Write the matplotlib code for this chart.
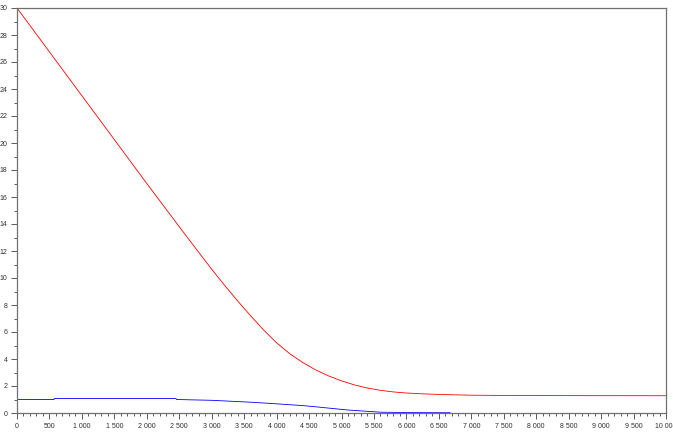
import matplotlib
matplotlib.use('Agg')
import matplotlib.pyplot as plt
from matplotlib.ticker import MultipleLocator, FuncFormatter

# red curve
red_x = [0, 500, 1000, 1500, 2000, 2500, 2800, 3000, 3200, 3400, 3600, 3800,
         4000, 4200, 4400, 4600, 4800, 5000, 5200, 5400, 5600, 5800, 6000,
         6300, 6600, 7000, 7500, 8000, 10000]
red_y = [30, 26.75, 23.5, 20.25, 17.0, 13.8, 11.9, 10.65, 9.45, 8.3, 7.2, 6.15,
         5.2, 4.4, 3.75, 3.2, 2.75, 2.38, 2.08, 1.85, 1.68, 1.56, 1.48,
         1.41, 1.36, 1.32, 1.30, 1.29, 1.28]

# blue curve
blue_x = [0, 570, 575, 2450, 2460, 3000, 3600, 4000, 4400, 4600, 5100, 5600, 6000, 6672]
blue_y = [1.0, 1.0, 1.07, 1.07, 1.0, 0.94, 0.8, 0.68, 0.55, 0.46, 0.22, 0.06, 0.03, 0.02]

plt.rcParams['font.family'] = ['Liberation Sans', 'DejaVu Sans']

fig = plt.figure(figsize=(6.73, 4.46), dpi=100)
ax = fig.add_axes([17 / 673, 1 - 413 / 446, 649 / 673, 405 / 446])

ax.plot(red_x, red_y, color='red', lw=0.6)
ax.plot(blue_x, blue_y, color='blue', lw=0.6)

ax.set_xlim(0, 10000)
ax.set_ylim(0, 30)

ax.xaxis.set_major_locator(MultipleLocator(500))
ax.xaxis.set_minor_locator(MultipleLocator(100))
ax.yaxis.set_major_locator(MultipleLocator(2))
ax.yaxis.set_minor_locator(MultipleLocator(1))
ax.xaxis.set_major_formatter(FuncFormatter(lambda v, p: f'{int(v):,}'.replace(',', ' ')))
ax.yaxis.set_major_formatter(FuncFormatter(lambda v, p: f'{int(v)}'))

for s in ax.spines.values():
    s.set_color('#707070')
    s.set_linewidth(0.9)

ax.tick_params(which='major', direction='out', length=4, width=0.6, color='#404040',
               labelsize=5, labelcolor='#303030', pad=3)
ax.tick_params(which='minor', direction='out', length=2, width=0.6, color='#404040')

fig.savefig('out.png', dpi=100)
